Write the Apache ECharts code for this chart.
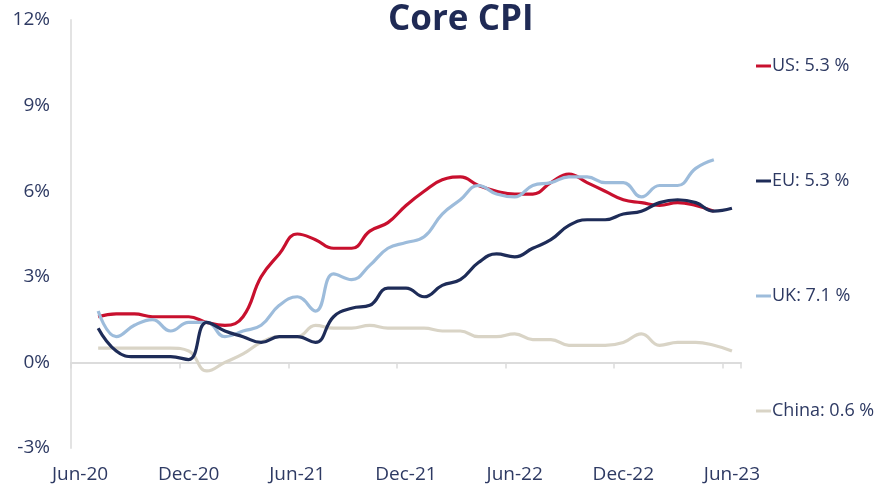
<!DOCTYPE html>
<html>
<head>
<meta charset="utf-8">
<title>Core CPI</title>
<script src="https://cdn.jsdelivr.net/npm/echarts@6/dist/echarts.min.js"></script>
<style>
  html, body { margin: 0; padding: 0; background: #fff; }
  #main { width: 886px; height: 490px; }
</style>
</head>
<body>
<div id="main"></div>
<script>
// monthly, Jun-20 .. Jun-23
var months = ['Jun-20', 'Jul-20', 'Aug-20', 'Sep-20', 'Oct-20', 'Nov-20',
  'Dec-20', 'Jan-21', 'Feb-21', 'Mar-21', 'Apr-21', 'May-21',
  'Jun-21', 'Jul-21', 'Aug-21', 'Sep-21', 'Oct-21', 'Nov-21',
  'Dec-21', 'Jan-22', 'Feb-22', 'Mar-22', 'Apr-22', 'May-22',
  'Jun-22', 'Jul-22', 'Aug-22', 'Sep-22', 'Oct-22', 'Nov-22',
  'Dec-22', 'Jan-23', 'Feb-23', 'Mar-23', 'Apr-23', 'May-23',
  'Jun-23'];

var us = [null, 1.6, 1.7, 1.7, 1.6, 1.6, 1.6, 1.4, 1.3, 1.6, 3.0, 3.8,
  4.5, 4.3, 4.0, 4.0, 4.6, 4.9, 5.5, 6.0, 6.4, 6.5, 6.2, 6.0,
  5.9, 5.9, 6.3, 6.6, 6.3, 6.0, 5.7, 5.6, 5.5, 5.6, 5.5, 5.3, null];
var eu = [null, 1.2, 0.4, 0.2, 0.2, 0.2, 0.1, 1.4, 1.1, 0.9, 0.7, 0.9,
  0.9, 0.7, 1.6, 1.9, 2.0, 2.6, 2.6, 2.3, 2.7, 2.9, 3.5, 3.8,
  3.7, 4.0, 4.3, 4.8, 5.0, 5.0, 5.2, 5.3, 5.6, 5.7, 5.6, 5.3, 5.4];
var uk = [null, 1.8, 0.9, 1.3, 1.5, 1.1, 1.4, 1.4, 0.9, 1.1, 1.3, 2.0,
  2.3, 1.8, 3.1, 2.9, 3.4, 4.0, 4.2, 4.4, 5.2, 5.7, 6.2, 5.9,
  5.8, 6.2, 6.3, 6.5, 6.5, 6.3, 6.3, 5.8, 6.2, 6.2, 6.8, 7.1, null];
var china = [null, 0.5, 0.5, 0.5, 0.5, 0.5, 0.4, -0.3, 0.0, 0.3, 0.7, 0.9,
  0.9, 1.3, 1.2, 1.2, 1.3, 1.2, 1.2, 1.2, 1.1, 1.1, 0.9, 0.9,
  1.0, 0.8, 0.8, 0.6, 0.6, 0.6, 0.7, 1.0, 0.6, 0.7, 0.7, 0.6, 0.4];

var names = ['US', 'EU', 'UK', 'China'];
var latest = [5.3, 5.3, 7.1, 0.6];

var textColor = '#2e3a63';
var font = 'Open Sans';

function line(name, data, color) {
  return {
    name: name,
    type: 'line',
    xAxisIndex: 0,
    data: data,
    smooth: 0.45,
    showSymbol: false,
    symbol: 'none',
    lineStyle: { color: color, width: 3.2 },
    itemStyle: { color: color }
  };
}

var myChart = echarts.init(document.getElementById('main'));
myChart.setOption({
  animation: false,
  title: {
    text: 'Core CPI',
    left: 383,
    top: -2,
    textStyle: { fontFamily: font, fontSize: 35, fontWeight: 'bold', color: '#1f2a55' }
  },
  legend: {
    data: names,
    orient: 'vertical',
    left: 751,
    top: 51,
    itemWidth: 15,
    itemHeight: 3,
    itemGap: 95,
    icon: 'rect',
    formatter: function (name) {
      return name + ': ' + latest[names.indexOf(name)] + ' %';
    },
    textStyle: { fontFamily: font, fontSize: 18, color: textColor, lineHeight: 20, padding: [0, 0, 0, -4] }
  },
  grid: { left: 71, right: 145, top: 20, bottom: 42 },
  xAxis: [
    {
      type: 'category',
      data: months,
      boundaryGap: true,
      axisLine: { onZero: true, lineStyle: { color: '#dcdcdc', width: 2 } },
      axisTick: { show: true, interval: 5, length: 6, lineStyle: { color: '#dcdcdc', width: 1.5 } },
      axisLabel: { show: false }
    },
    {
      type: 'category',
      data: months,
      boundaryGap: true,
      position: 'bottom',
      axisLine: { show: false, onZero: false },
      axisTick: { show: false },
      axisLabel: { interval: 5, margin: 17, fontFamily: font, fontSize: 19, color: textColor }
    }
  ],
  yAxis: {
    type: 'value',
    min: -3,
    max: 12,
    interval: 3,
    axisLine: { show: true, lineStyle: { color: '#e3e3e3', width: 2 } },
    axisTick: { show: false },
    splitLine: { show: false },
    axisLabel: { formatter: '{value}%', margin: 21, fontFamily: font, fontSize: 19, color: textColor }
  },
  series: [
    line('China', china, '#d9d4c6'),
    line('US', us, '#c8102e'),
    line('UK', uk, '#9dbcdb'),
    line('EU', eu, '#1e2c58')
  ]
});
</script>
</body>
</html>
